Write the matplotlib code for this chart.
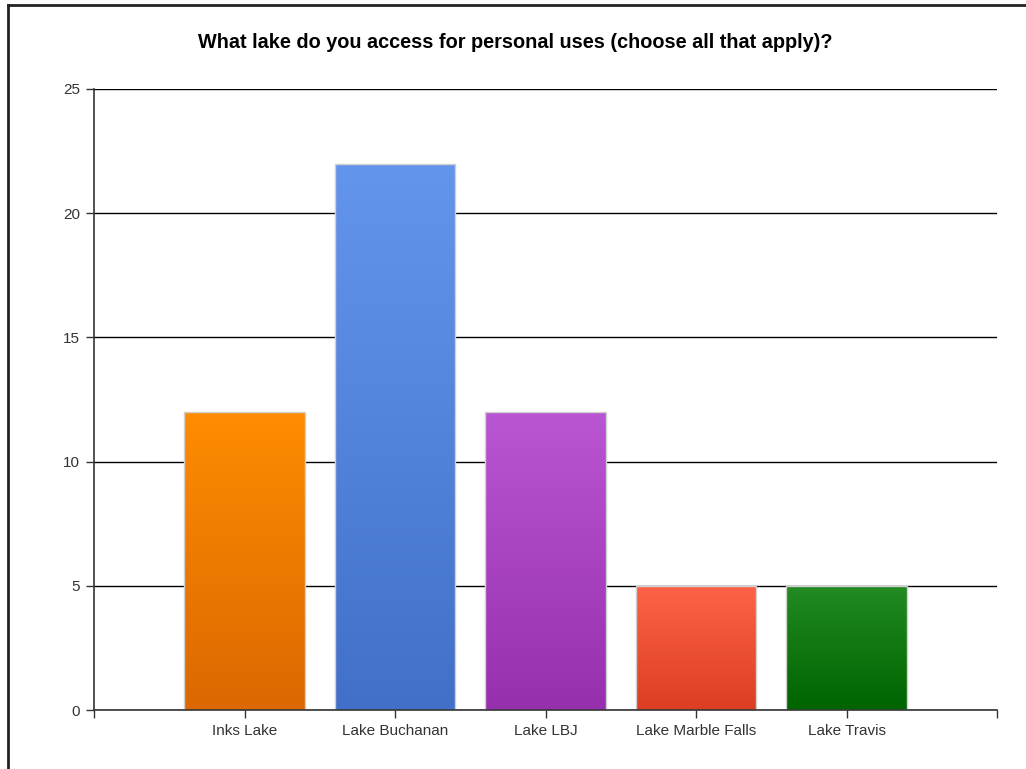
import numpy as np
import matplotlib
matplotlib.use("Agg")
import matplotlib.pyplot as plt
from matplotlib.colors import LinearSegmentedColormap

plt.rcParams['font.family'] = ['Liberation Sans', 'DejaVu Sans']

# Data
lakes = ['Inks Lake', 'Lake Buchanan', 'Lake LBJ', 'Lake Marble Falls', 'Lake Travis']
counts = [12, 22, 12, 5, 5]
top_colors = ['#FF8C00', '#6495ED', '#BA55D3', '#FF6347', '#228B22']
bottom_colors = ['#DB6800', '#4270C8', '#9630AE', '#DB3E22', '#006400']
yticks = [0, 5, 10, 15, 20, 25]

fig = plt.figure(figsize=(10.26, 7.69), dpi=100)
ax = fig.add_axes([94 / 1026, 1 - 710 / 769, (997 - 94) / 1026, (710 - 89) / 769])

# frame around the chart (left and top edges visible)
fig.add_artist(plt.Line2D([8 / 1026, 8 / 1026], [0, 1 - 5 / 769], transform=fig.transFigure,
                          color='#222222', lw=2))
fig.add_artist(plt.Line2D([8 / 1026, 1], [1 - 5 / 769, 1 - 5 / 769], transform=fig.transFigure,
                          color='#222222', lw=2))

x = np.arange(1, len(lakes) + 1)
bars = ax.bar(x, counts, width=0.8, color='none', edgecolor='#d0d0d0', linewidth=1, zorder=3)

# gradient fill for each bar
grad = np.linspace(0, 1, 256).reshape(-1, 1)
for bar, ctop, cbot in zip(bars, top_colors, bottom_colors):
    cmap = LinearSegmentedColormap.from_list('g', [cbot, ctop])
    x0, y0 = bar.get_x(), bar.get_y()
    w, h = bar.get_width(), bar.get_height()
    im = ax.imshow(grad, cmap=cmap, aspect='auto', origin='lower',
                   extent=[x0, x0 + w, y0, y0 + h], zorder=2)
    im.set_clip_path(bar)

ax.set_xlim(0, 6)
ax.set_ylim(0, 25)
ax.set_yticks(yticks)
ax.set_yticklabels([str(t) for t in yticks], fontsize=11, color='#333333')
ax.set_xticks(range(0, 7))
ax.set_xticklabels([''] + lakes + [''], fontsize=11, color='#333333')
ax.tick_params(axis='both', length=6, width=1, color='#333333', pad=4)

ax.grid(axis='y', color='black', linewidth=1, zorder=1)
ax.set_axisbelow(True)
for s in ['top', 'right']:
    ax.spines[s].set_visible(False)
for s in ['left', 'bottom']:
    ax.spines[s].set_color('#333333')
    ax.spines[s].set_linewidth(1.2)
    ax.spines[s].set_zorder(4)

fig.text(515 / 1026, 1 - 43 / 769, 'What lake do you access for personal uses (choose all that apply)?',
         ha='center', va='center', fontsize=14.3, fontweight='bold', color='black')

fig.savefig('out.png', dpi=100)
